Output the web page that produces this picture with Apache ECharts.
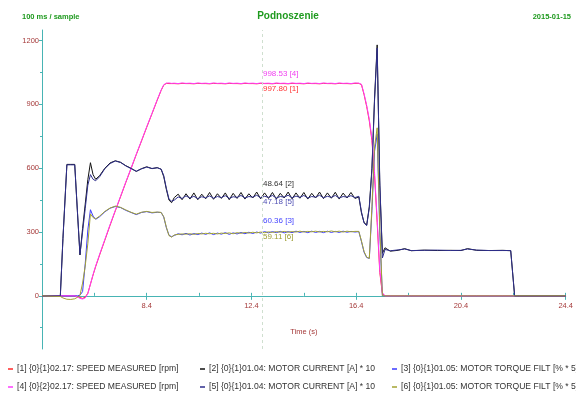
<!DOCTYPE html>
<html>
<head>
<meta charset="utf-8">
<title>Podnoszenie</title>
<script src="https://cdn.jsdelivr.net/npm/echarts@6/dist/echarts.min.js"></script>
<style>
html, body { margin: 0; padding: 0; background: #fff; }
#chart { width: 576px; height: 394px; }
</style>
</head>
<body>
<div id="chart"></div>
<script>
// czas [s] - gesciej tam gdzie sa przebiegi przejsciowe
var time = [
	4.4, 5.1, 5.2, 5.35, 5.5, 5.65, 5.75, 5.85, 5.95, 6.05,
	6.15, 6.25, 6.35, 6.45, 6.6, 6.8, 7.0, 7.2, 7.4, 7.6,
	7.8, 8.0, 8.2, 8.4, 8.6, 8.8, 8.95, 9.05, 9.15, 9.25, 9.35,
	9.45, 9.6, 9.75, 9.9, 10.05, 10.2, 10.35, 10.5, 10.65, 10.8,
	10.95, 11.1, 11.25, 11.4, 11.55, 11.7, 11.85, 12.0, 12.15, 12.3,
	12.45, 12.6, 12.75, 12.9, 13.05, 13.2, 13.35, 13.5, 13.65, 13.8,
	13.95, 14.1, 14.25, 14.4, 14.55, 14.7, 14.85, 15.0, 15.15, 15.3,
	15.45, 15.6, 15.75, 15.9, 16.05, 16.2, 16.35,
	16.5, 16.6, 16.7, 16.8, 16.9, 17.0, 17.1, 17.2, 17.3, 17.4,
	17.5, 17.7, 18.0, 18.25, 18.5, 19.0, 19.5, 20.0, 20.4, 20.65,
	21.0, 21.5, 22.0, 22.3, 22.45, 22.6, 24.4
];

// [1] predkosc [rpm]
var speed1 = [
	0, 0, 0, 0, 0, 0, -3, -8, -12, -6,
	12, 55, 98, 138, 192, 262, 332, 400, 466, 533,
	598, 664, 728, 793, 856, 920, 966, 991, 999, 998, 998,
	998, 997, 999, 998, 998, 997, 999, 998, 998, 997,
	999, 998, 998, 997, 999, 998, 998, 997, 999, 998,
	998, 997, 999, 998, 998, 997, 999, 998, 998, 997,
	999, 998, 998, 997, 999, 998, 998, 997, 999, 998,
	998, 997, 999, 998, 998, 997, 999,
	999, 993, 946, 890, 822, 730, 565, 345, 110, 10,
	0, 0, 0, 0, 0, 0, 0, 0, 0, 0,
	0, 0, 0, 0, 0, 0, 0
];
// [2] prad silnika [A] * 10
var current2 = [
	0, 0, 270, 618, 618, 618, 400, 192, 317, 431,
	546, 626, 570, 548, 565, 600, 625, 635, 628, 612,
	600, 585, 598, 607, 598, 603, 595, 560, 500, 450, 438,
	462, 478, 452, 480, 455, 484, 452, 478, 456, 486,
	454, 480, 458, 484, 452, 482, 458, 486, 455, 480,
	460, 488, 456, 484, 458, 486, 455, 482, 460, 488,
	456, 484, 459, 486, 455, 482, 460, 488, 457, 484,
	459, 487, 455, 483, 460, 486, 458,
	465, 390, 345, 333, 420, 600, 930, 1180, 520, 200,
	226, 210, 214, 222, 212, 215, 213, 214, 213, 222,
	214, 213, 214, 212, 0, 0, 0
];
// [3] moment [%] * 5
var torque3 = [
	0, 0, 0, 0, 0, 0, 0, 3, 20, 150,
	310, 405, 375, 360, 372, 395, 412, 420, 415, 402,
	392, 382, 392, 396, 390, 393, 392, 370, 320, 285, 278,
	284, 292, 287, 294, 286, 293, 288, 295, 289, 296,
	288, 295, 290, 297, 289, 296, 291, 298, 292, 299,
	293, 300, 295, 302, 296, 302, 297, 303, 296, 302,
	297, 304, 298, 303, 297, 304, 298, 303, 297, 304,
	298, 303, 298, 304, 299, 303, 300,
	302, 255, 205, 180, 176, 400, 680, 760, 300, 0,
	0, 0, 0, 0, 0, 0, 0, 0, 0, 0,
	0, 0, 0, 0, 0, 0, 0
];
// [4] predkosc [rpm]
var speed4 = [
	0, 0, 0, 0, 0, 0, -5, -12, -15, -10,
	10, 55, 100, 140, 195, 265, 335, 402, 468, 535,
	600, 666, 730, 795, 858, 922, 968, 993, 1000, 1001, 999,
	1000, 998, 1001, 999, 1000, 998, 1001, 999, 1000, 998,
	1001, 999, 1000, 998, 1001, 999, 1000, 998, 1001, 999,
	1000, 998, 1001, 999, 1000, 998, 1001, 999, 1000, 998,
	1001, 999, 1000, 998, 1001, 999, 1000, 998, 1001, 999,
	1000, 998, 1001, 999, 1000, 998, 1001,
	1000, 995, 950, 895, 830, 740, 580, 360, 120, 15,
	0, 0, 0, 0, 0, 0, 0, 0, 0, 0,
	0, 0, 0, 0, 0, 0, 0
];
// [5] prad silnika [A] * 10
var current5 = [
	0, 0, 268, 616, 616, 616, 405, 195, 300, 410,
	520, 570, 548, 541, 560, 598, 622, 634, 627, 611,
	598, 586, 597, 605, 599, 602, 596, 565, 505, 455, 445,
	450, 465, 458, 470, 460, 468, 457, 466, 461, 470,
	459, 467, 462, 471, 458, 466, 463, 472, 460, 467,
	464, 473, 461, 468, 463, 472, 460, 467, 464, 473,
	461, 469, 463, 472, 460, 467, 464, 473, 461, 468,
	463, 472, 460, 467, 464, 471, 462,
	468, 395, 342, 330, 415, 590, 920, 1165, 540, 178,
	218, 212, 216, 220, 213, 214, 215, 213, 214, 220,
	215, 213, 213, 213, 0, 0, 0
];
// [6] moment [%] * 5
var torque6 = [
	0, -3, -10, -16, -17, -14, -7, 2, 60, 140,
	245, 385, 368, 362, 375, 397, 413, 422, 416, 404,
	393, 384, 393, 397, 392, 394, 392, 372, 322, 283, 276,
	286, 289, 291, 290, 292, 289, 293, 291, 294, 292,
	294, 291, 295, 293, 296, 292, 297, 294, 298, 295,
	299, 296, 300, 297, 301, 298, 302, 299, 303, 299,
	302, 300, 304, 300, 303, 301, 304, 300, 303, 301,
	305, 301, 304, 300, 304, 301, 303,
	303, 258, 208, 182, 176, 420, 700, 790, 320, 0,
	0, 0, 0, 0, 0, 0, 0, 0, 0, 0,
	0, 0, 0, 0, 0, 0, 0
];

var seriesNames = [
	'[1] {0}{1}02.17: SPEED MEASURED [rpm]',
	'[2] {0}{1}01.04: MOTOR CURRENT [A] * 10',
	'[3] {0}{1}01.05: MOTOR TORQUE FILT [% * 5]',
	'[4] {0}{2}02.17: SPEED MEASURED [rpm]',
	'[5] {0}{1}01.04: MOTOR CURRENT [A] * 10',
	'[6] {0}{1}01.05: MOTOR TORQUE FILT [% * 5]'
];
var seriesValues = [speed1, current2, torque3, speed4, current5, torque6];

// odczyt kursora
var cursorTime = 12.8;
var cursorValues = [997.80, 48.64, 60.36, 998.53, 47.18, 59.11];
var cursorScale = [1, 10, 5, 1, 10, 5];

var yTicks = [0, 300, 600, 900, 1200];
var yMinorTicks = [-150, 150, 450, 750, 1050];
var xTicks = [8.4, 12.4, 16.4, 20.4, 24.4];
var xMinorTicks = [6.4, 10.4, 14.4, 18.4, 22.4];

/** ******************************************************************** */
var colors = ['#ff2a2a', '#111111', '#3a3aff', '#ff3cff', '#2e2e8c', '#a3a332'];
var labelColors = ['#ff3333', '#333333', '#4646ff', '#f040f0', '#5050b4', '#9c9c30'];
var labelDy = [5, -9, -11, -10, 6, 4];
var axisColor = '#48b4b4';
var textRed = '#a53a3a';
var green = '#1f9a1f';

var yMin = -250, yMax = 1250;
var gridTop = 30, gridBottom = 45, chartH = 394;
// os X lezy na wartosci 0, przesuwamy ja do gory o odpowiednia ilosc pikseli
var gridH = chartH - gridTop - gridBottom;
var xAxisOffset = -gridH * (0 - yMin) / (yMax - yMin);

var myChart = echarts.init(document.getElementById('chart'));

var series = [];
for (var i = 0; i < seriesNames.length; i++) {
	var data = [];
	for (var k = 0; k < time.length; k++) {
		data.push([time[k], seriesValues[i][k]]);
	}
	var s = {
		name : seriesNames[i],
		type : 'line',
		data : data,
		showSymbol : false,
		symbol : 'none',
		lineStyle : { width : 1, color : colors[i] },
		itemStyle : { color : colors[i] },
		markPoint : {
			symbol : 'circle',
			symbolSize : 0,
			silent : true,
			data : [ {
				coord : [ cursorTime, cursorValues[i] * cursorScale[i] ],
				label : {
					show : true,
					position : 'right',
					distance : 1,
					offset : [ 0, labelDy[i] ],
					formatter : cursorValues[i].toFixed(2) + ' [' + (i + 1) + ']',
					color : labelColors[i],
					fontSize : 8
				}
			} ]
		}
	};
	if (i == 0) {
		// przerywana linia kursora
		s.markLine = {
			silent : true,
			symbol : 'none',
			label : { show : false },
			lineStyle : { color : '#cfdfcf', type : [ 3, 3 ], width : 1 },
			data : [ { xAxis : cursorTime } ]
		};
	}
	series.push(s);
}

var legendLeft = [8, 200, 392];
var legends = [];
for (var c = 0; c < 3; c++) {
	legends.push({
		orient : 'vertical',
		left : legendLeft[c],
		top : 363,
		padding : 0,
		data : [ seriesNames[c], seriesNames[c + 3] ],
		icon : 'rect',
		itemWidth : 5,
		itemHeight : 1.5,
		itemGap : 6,
		selectedMode : false,
		textStyle : { fontSize : 8.6, lineHeight : 12, color : '#333', padding : [ 0, 0, 0, -1 ] }
	});
}

function plainNumber(v) {
	return String(v);
}

var option = {
	animation : false,
	textStyle : { fontFamily : 'Liberation Sans, Arial, sans-serif' },
	title : [ {
		text : '100 ms / sample', left : 22, top : 13, padding : 0,
		textStyle : { fontSize : 7.5, fontWeight : 'bold', color : green }
	}, {
		text : 'Podnoszenie', left : 'center', top : 11, padding : 0,
		textStyle : { fontSize : 10, fontWeight : 'bold', color : green }
	}, {
		text : '2015-01-15', right : 5, top : 13, padding : 0,
		textStyle : { fontSize : 7.5, fontWeight : 'bold', color : green }
	} ],
	legend : legends,
	grid : { left : 42, right : 10, top : gridTop, bottom : gridBottom },
	xAxis : [ {
		type : 'value', min : 4.4, max : 24.4, position : 'bottom', offset : xAxisOffset,
		name : 'Time (s)', nameLocation : 'middle', nameGap : 32,
		nameTextStyle : { color : textRed, fontSize : 7.5 },
		axisLine : { onZero : false, lineStyle : { color : axisColor, width : 1 } },
		axisTick : { customValues : xTicks, length : 4, lineStyle : { color : axisColor } },
		axisLabel : { customValues : xTicks, color : textRed, fontSize : 7.5, margin : 6, formatter : plainNumber },
		splitLine : { show : false }
	}, {
		type : 'value', min : 4.4, max : 24.4, position : 'bottom', offset : xAxisOffset,
		axisLine : { show : false, onZero : false },
		axisTick : { inside : true, customValues : xTicks.concat(xMinorTicks), length : 3, lineStyle : { color : axisColor } },
		axisLabel : { show : false },
		splitLine : { show : false }
	} ],
	yAxis : [ {
		type : 'value', min : yMin, max : yMax, position : 'left',
		axisLine : { show : true, onZero : false, lineStyle : { color : axisColor, width : 1 } },
		axisTick : { show : true, customValues : yTicks, length : 3, lineStyle : { color : axisColor } },
		axisLabel : { customValues : yTicks, color : textRed, fontSize : 7.5, margin : 3, formatter : plainNumber },
		splitLine : { show : false }
	}, {
		type : 'value', min : yMin, max : yMax, position : 'left',
		axisLine : { show : false, onZero : false },
		axisTick : { show : true, customValues : yMinorTicks, length : 2, lineStyle : { color : axisColor } },
		axisLabel : { show : false },
		splitLine : { show : false }
	} ],
	series : series
};
myChart.setOption(option);
</script>
</body>
</html>
